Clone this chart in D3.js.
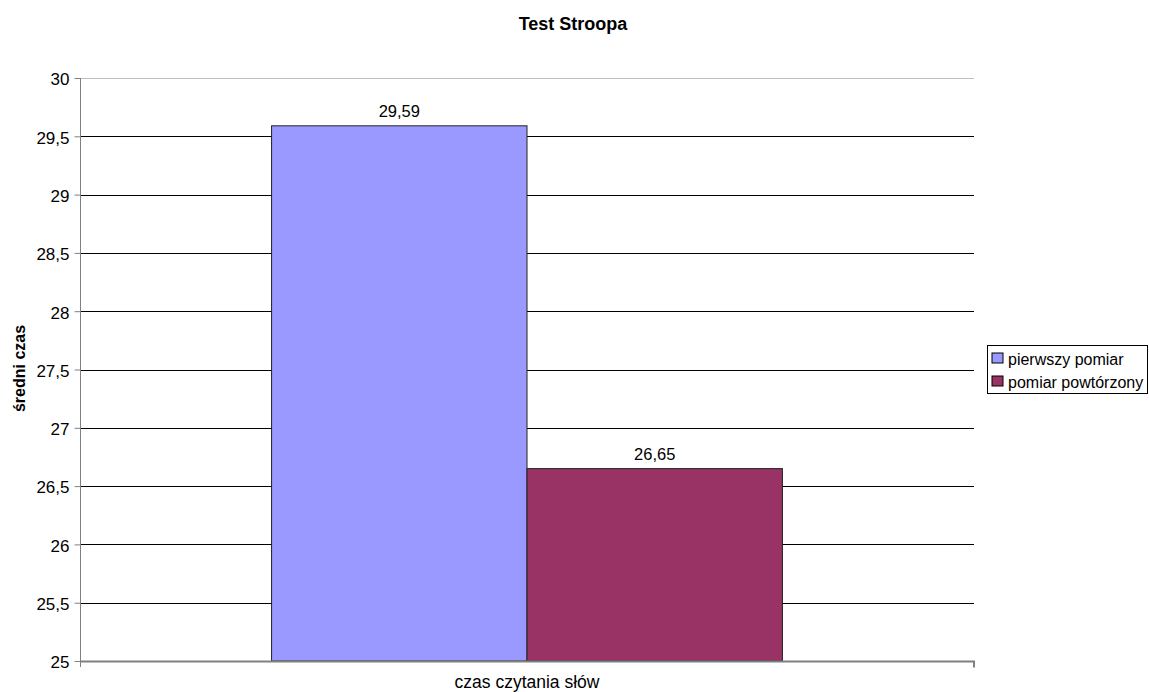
<!DOCTYPE html>
<html>
<head>
<meta charset="utf-8">
<script src="https://cdn.jsdelivr.net/npm/d3@7"></script>
<style>
    body { margin: 0; background: #fff; }
    svg text { font-family: "Liberation Sans", Arial, sans-serif; fill: #000; }
</style>
</head>
<body>
<svg id="chart" width="1149" height="692"></svg>
<script>
let categories = ['czas czytania słów'];
let seriesNames = ['pierwszy pomiar', 'pomiar powtórzony'];
let seriesValues = [29.59, 26.65];
let seriesColors = ['#9999FF', '#993366'];
let yTicks = [25, 25.5, 26, 26.5, 27, 27.5, 28, 28.5, 29, 29.5, 30];

let fmt = v => String(v).replace('.', ',');

let plot = {left: 80, right: 974, top: 78, bottom: 661};

let svg = d3.select('#chart');

let y = d3.scaleLinear()
    .domain([25, 30])
    .range([plot.bottom, plot.top]);

let x0 = d3.scaleBand()
    .domain(categories)
    .range([plot.left, plot.right]);

// gap width 150% -> each category = 2 bars + 1.5 bar of gap
let barWidth = x0.bandwidth() / 3.5;
let x1 = d3.scaleBand()
    .domain(seriesNames)
    .range([x0(categories[0]) + barWidth * 0.75, x0(categories[0]) + x0.bandwidth() - barWidth * 0.75]);

// gridlines
svg.append('g')
    .selectAll('line')
    .data(yTicks)
    .join('line')
    .attr('x1', plot.left)
    .attr('x2', plot.right)
    .attr('y1', d => Math.round(y(d)) + 0.5)
    .attr('y2', d => Math.round(y(d)) + 0.5)
    .attr('stroke', d => d === 30 ? '#c0c0c0' : '#000')
    .attr('stroke-width', 1);

// bars
svg.append('g')
    .selectAll('rect')
    .data(seriesValues)
    .join('rect')
    .attr('x', (d, i) => x1(seriesNames[i]))
    .attr('y', d => y(d))
    .attr('width', x1.bandwidth())
    .attr('height', d => plot.bottom - y(d))
    .attr('fill', (d, i) => seriesColors[i])
    .attr('stroke', '#222')
    .attr('stroke-width', 1);

// value labels
svg.append('g')
    .selectAll('text')
    .data(seriesValues)
    .join('text')
    .attr('x', (d, i) => x1(seriesNames[i]) + x1.bandwidth() / 2)
    .attr('y', d => y(d) - 9)
    .attr('text-anchor', 'middle')
    .attr('font-size', 16.5)
    .text(d => fmt(d.toFixed(2)));

// y axis
let yAxis = d3.axisLeft(y)
    .tickValues(yTicks)
    .tickSize(6)
    .tickPadding(5)
    .tickFormat(d => fmt(d));

let gy = svg.append('g')
    .attr('transform', `translate(${plot.left + 0.5},0)`)
    .call(yAxis);
gy.select('.domain').attr('stroke', '#808080').attr('d', `M0,${plot.top}V${plot.bottom + 6}`);
gy.selectAll('.tick line').attr('stroke', '#808080');
gy.selectAll('.tick text')
    .attr('font-size', 17)
    .attr('dy', '0.4em')
    .attr('font-family', '"Liberation Sans", Arial, sans-serif')
    .attr('fill', '#000');

// x axis
let xAxis = d3.axisBottom(x0).tickSize(0).tickFormat(() => '');
let gx = svg.append('g')
    .attr('transform', `translate(0,${plot.bottom + 0.5})`)
    .call(xAxis);
gx.select('.domain').attr('stroke', '#808080').attr('stroke-width', 2)
    .attr('d', `M${plot.left},0H${plot.right}V6`);

svg.append('text')
    .attr('x', x0(categories[0]) + x0.bandwidth() / 2)
    .attr('y', 688)
    .attr('text-anchor', 'middle')
    .attr('font-size', 17.5)
    .text(categories[0]);

// titles
svg.append('text')
    .attr('x', 573)
    .attr('y', 30)
    .attr('text-anchor', 'middle')
    .attr('font-size', 18)
    .attr('font-weight', 'bold')
    .text('Test Stroopa');

svg.append('text')
    .attr('transform', `translate(25,368.5) rotate(-90)`)
    .attr('text-anchor', 'middle')
    .attr('font-size', 16)
    .attr('font-weight', 'bold')
    .text('średni czas');

// legend
let legend = svg.append('g').attr('transform', 'translate(987.5,345.5)');
legend.append('rect')
    .attr('width', 160)
    .attr('height', 48)
    .attr('fill', '#fff')
    .attr('stroke', '#000');

let items = legend.selectAll('g')
    .data(seriesNames)
    .join('g')
    .attr('transform', (d, i) => `translate(4.5,${7.5 + i * 23})`);
items.append('rect')
    .attr('width', 11)
    .attr('height', 10)
    .attr('fill', (d, i) => seriesColors[i])
    .attr('stroke', '#000');
items.append('text')
    .attr('x', 16)
    .attr('y', 11.5)
    .attr('font-size', 16)
    .text(d => d);
</script>
</body>
</html>
